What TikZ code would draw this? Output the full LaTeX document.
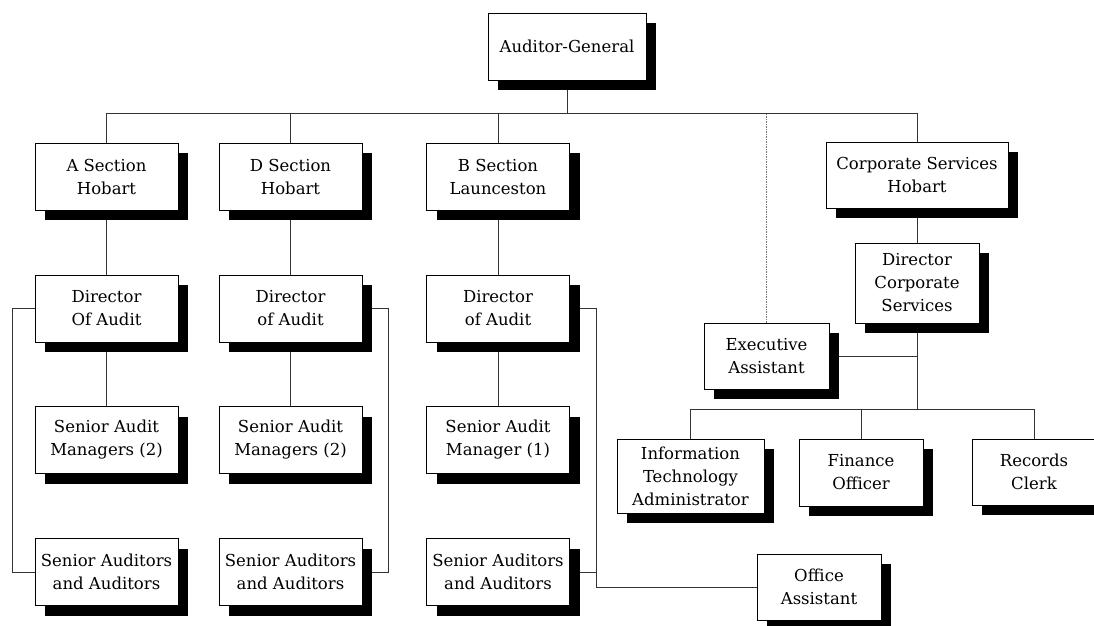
\documentclass[tikz,border=0pt]{standalone}
\usepackage{fontspec}
\setmainfont{DejaVu Serif}
\usetikzlibrary{shadows,backgrounds}
\begin{document}
\begin{tikzpicture}[x=1pt, y=-1pt,
    orgbox/.style={draw=black, line width=0.8pt, fill=white, align=center, inner sep=2pt,
      minimum width=143pt, minimum height=67pt, font=\fontsize{16.5}{23}\selectfont,
      drop shadow={shadow xshift=10pt, shadow yshift=-10pt, opacity=1, fill=black}},
    link/.style={draw=black!80, line width=0.75pt},
    dotlink/.style={draw=black!55, line width=0.75pt, dash pattern=on 1.5pt off 1pt}]
  \useasboundingbox (0,0) rectangle (1094,625);
  \node[orgbox, minimum width=158pt] (ag) at (567,46.5) {Auditor-General};
  % audit sections: name / x / section / director / managers
  \foreach \id/\x/\sec/\dir/\man in {
      a/106.5/{A Section\\Hobart}/{Director\\Of Audit}/{Senior Audit\\Managers (2)},
      d/290.5/{D Section\\Hobart}/{Director\\of Audit}/{Senior Audit\\Managers (2)},
      b/498/{B Section\\Launceston}/{Director\\of Audit}/{Senior Audit\\Manager (1)}} {
    \node[orgbox] (\id sec) at (\x,176.5) {\sec};
    \node[orgbox] (\id dir) at (\x,308.5) {\dir};
    \node[orgbox] (\id man) at (\x,440) {\man};
    \node[orgbox] (\id aud) at (\x,572) {Senior Auditors\\and Auditors};
  }
  \node[orgbox, minimum width=182pt, minimum height=66pt] (cs) at (917,175) {Corporate Services\\Hobart};
  \node[orgbox, minimum width=124pt, minimum height=80pt] (dircs) at (917,283) {Director\\Corporate\\Services};
  \node[orgbox, minimum width=125pt, minimum height=66pt] (ea) at (766.5,356) {Executive\\Assistant};
  \node[orgbox, minimum width=147pt, minimum height=74pt] (it) at (690.5,476) {Information\\Technology\\Administrator};
  \node[orgbox, minimum width=124pt] (fin) at (861,472.5) {Finance\\Officer};
  \node[orgbox, minimum width=124pt, minimum height=66pt] (rec) at (1034,472) {Records\\Clerk};
  \node[orgbox, minimum width=124pt, minimum height=66pt] (oa) at (819,587) {Office\\Assistant};
  \coordinate (topbus) at (0,113);
  \coordinate (csbus) at (917,409.5);
  \coordinate (bturn) at (596,308.5);
  \begin{scope}[on background layer]
    \draw[link] (ag.south) -- (ag.south |- topbus);
    \draw[link] (asec.north) |- (topbus -| cs.north) -- (cs.north);
    \foreach \id in {d,b} \draw[link] (\id sec.north) -- (\id sec.north |- topbus);
    \draw[dotlink] (ea.north) -- (ea.north |- topbus);
    \foreach \id in {a,d,b} {
      \draw[link] (\id sec.south) -- (\id dir.north);
      \draw[link] (\id dir.south) -- (\id man.north);
    }
    \draw[link] (adir.west) -- ++(-22,0) |- (aaud.west);
    \draw[link] (ddir.east) -- ++(26,0) |- (daud.east);
    \draw[link] (bdir.east) -- (bturn) |- (oa.west);
    \draw[link] (baud.east) -- (baud.east -| bturn);
    \draw[link] (cs.south) -- (dircs.north);
    \draw[link] (dircs.south) -- (csbus);
    \draw[link] (ea.east) -- (ea.east -| csbus);
    \draw[link] (it.north) |- (csbus) -| (rec.north);
    \draw[link] (fin.north) -- (fin.north |- csbus);
  \end{scope}
\end{tikzpicture}
\end{document}
